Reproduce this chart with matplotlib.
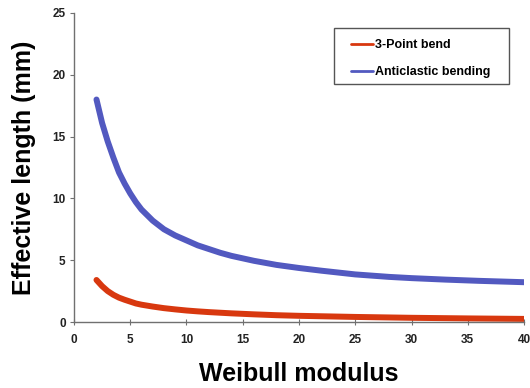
import matplotlib
matplotlib.use("Agg")
import matplotlib.pyplot as plt
from matplotlib.patches import Rectangle

plt.rcParams['font.family'] = ['Liberation Sans', 'DejaVu Sans']

modulus_blue = [2, 2.5, 3, 3.5, 4, 4.5, 5, 5.5, 6, 7, 8, 9, 10, 11, 12, 13, 14, 16, 18, 20,
                22, 25, 28, 30, 33, 36, 40]
anticlastic = [18.0, 16.1, 14.6, 13.3, 12.1, 11.2, 10.4, 9.7, 9.1, 8.2, 7.5, 7.0, 6.6, 6.2, 5.9,
               5.6, 5.35, 4.95, 4.62, 4.37, 4.15, 3.85, 3.65, 3.55, 3.43, 3.33, 3.22]

modulus_red = [2, 2.5, 3, 3.5, 4, 4.5, 5, 5.5, 6, 7, 8, 9, 10, 11, 12, 14, 16, 18, 20,
               25, 30, 35, 40]
three_point = [3.4, 2.9, 2.5, 2.2, 1.97, 1.8, 1.65, 1.5, 1.4, 1.25, 1.12, 1.02, 0.93, 0.86,
               0.8, 0.7, 0.62, 0.55, 0.5, 0.41, 0.34, 0.29, 0.25]

x_ticks = [0, 5, 10, 15, 20, 25, 30, 35, 40]
y_ticks = [0, 5, 10, 15, 20, 25]

fig = plt.figure(figsize=(5.30, 3.88), dpi=100)
ax = fig.add_axes([0.1396, 0.1701, 0.8491, 0.7964])

ax.plot(modulus_red, three_point, color='#D8380F', lw=4.3, solid_capstyle='round',
        solid_joinstyle='round', label='3-Point bend')
ax.plot(modulus_blue, anticlastic, color='#5259C0', lw=4.3, solid_capstyle='round',
        solid_joinstyle='round', label='Anticlastic bending')

ax.set_xlim(0, 40)
ax.set_ylim(0, 25)
ax.set_xticks(x_ticks)
ax.set_yticks(y_ticks)
for s in ['top', 'right']:
    ax.spines[s].set_visible(False)
for s in ['left', 'bottom']:
    ax.spines[s].set_color('#707070')
    ax.spines[s].set_linewidth(1.0)
ax.tick_params(axis='y', direction='out', length=3, color='#707070', labelsize=8.5, pad=3)
ax.tick_params(axis='x', direction='inout', length=5, color='#707070', labelsize=8.5, pad=6)
for lab in ax.get_xticklabels() + ax.get_yticklabels():
    lab.set_fontweight('bold')
    lab.set_color('#222222')

ax.set_xlabel('Weibull modulus', fontsize=18, fontweight='bold', labelpad=12)
ax.set_ylabel('Effective length (mm)', fontsize=18, fontweight='bold', labelpad=12)

# legend frame
ax.add_patch(Rectangle((0.578, 0.770), 0.389, 0.181, transform=ax.transAxes,
                       facecolor='white', edgecolor='#555555', lw=1.0, zorder=4))
leg = ax.legend(loc='upper left', bbox_to_anchor=(0.616, 0.916), borderaxespad=0,
                frameon=False, handlelength=1.76, handletextpad=0.16, borderpad=0,
                labelspacing=1.2, prop={'weight': 'bold', 'size': 9})
leg.set_zorder(5)
for line in leg.get_lines():
    line.set_linewidth(2)

fig.savefig('out.png', dpi=100)
